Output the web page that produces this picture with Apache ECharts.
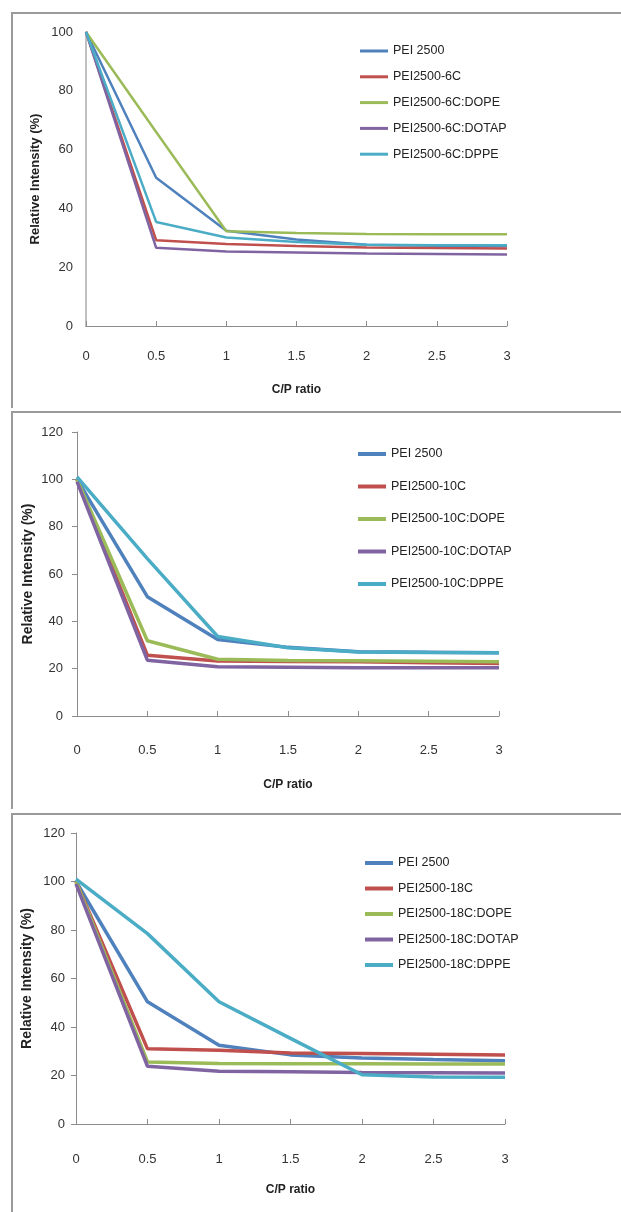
<!DOCTYPE html>
<html>
<head>
<meta charset="utf-8">
<script src="https://cdn.jsdelivr.net/npm/echarts@6/dist/echarts.min.js"></script>
<style>
  html, body { margin: 0; padding: 0; background: #fff; width: 621px; height: 1212px; overflow: hidden; }
  .frame { position: absolute; border-top: 2px solid #9a9a9a; border-left: 2px solid #9a9a9a; box-sizing: border-box; }
  .chart { position: absolute; left: 0; width: 621px; }
</style>
</head>
<body>
<div class="frame" style="left:11px; top:12px; width:620px; height:396px;"></div>
<div class="frame" style="left:11px; top:411px; width:620px; height:398px;"></div>
<div class="frame" style="left:11px; top:813px; width:620px; height:410px;"></div>
<div id="c1" class="chart" style="top:0px; height:405px;"></div>
<div id="c2" class="chart" style="top:405px; height:405px;"></div>
<div id="c3" class="chart" style="top:810px; height:402px;"></div>
<script>
// C/P ratio values (x axis)
var cpRatio = [0, 0.5, 1, 1.5, 2, 2.5, 3];
var colors = ['#4F81BD', '#C0504D', '#9BBB59', '#8064A2', '#4BACC6'];

// Panel 1: 6C
var names6C = ['PEI 2500', 'PEI2500-6C', 'PEI2500-6C:DOPE', 'PEI2500-6C:DOTAP', 'PEI2500-6C:DPPE'];
var pei2500_p1   = [100, 50.4, 32.4, 29.4, 27.6, 27.3, 27.1];
var c6           = [100, 29.2, 27.9, 27.2, 26.7, 26.5, 26.4];
var c6_dope      = [100, 66, 32.2, 31.6, 31.3, 31.2, 31.2];
var c6_dotap     = [100, 26.6, 25.3, 25.0, 24.7, 24.5, 24.3];
var c6_dppe      = [100, 35.4, 30.1, 28.6, 27.6, 27.5, 27.5];

// Panel 2: 10C
var names10C = ['PEI 2500', 'PEI2500-10C', 'PEI2500-10C:DOPE', 'PEI2500-10C:DOTAP', 'PEI2500-10C:DPPE'];
var pei2500_p2   = [100, 50.4, 32.3, 29.0, 27.1, 26.9, 26.7];
var c10          = [100, 25.7, 23.2, 23.0, 22.9, 22.5, 22.2];
var c10_dope     = [100, 31.8, 24.0, 23.5, 23.3, 23.1, 22.9];
var c10_dotap    = [99, 23.6, 20.8, 20.6, 20.4, 20.4, 20.4];
var c10_dppe     = [101, 66.5, 33.6, 28.8, 27.0, 26.8, 26.7];

// Panel 3: 18C
var names18C = ['PEI 2500', 'PEI2500-18C', 'PEI2500-18C:DOPE', 'PEI2500-18C:DOTAP', 'PEI2500-18C:DPPE'];
var pei2500_p3   = [100, 50.4, 32.5, 28.5, 27.2, 26.6, 26.1];
var c18          = [100, 31.0, 30.4, 29.3, 29.1, 28.8, 28.5];
var c18_dope     = [100, 25.6, 24.9, 24.8, 24.8, 24.7, 24.7];
var c18_dotap    = [99, 23.8, 21.8, 21.5, 21.2, 21.1, 21.0];
var c18_dppe     = [101, 78.5, 50.4, 35.3, 20.3, 19.4, 19.3];

var FONT = "'Liberation Sans Narrow', 'Liberation Sans', Arial, sans-serif";
var BOLD = "'Liberation Sans', Arial, sans-serif";

function pairs(vals) { return cpRatio.map(function (x, i) { return [x, vals[i]]; }); }

function build(cfg) {
  var series = cfg.values.map(function (v, i) {
    return {
      name: cfg.names[i], type: 'line', data: pairs(v),
      showSymbol: false, symbol: 'none', smooth: false,
      lineStyle: { width: cfg.lw, color: colors[i] },
      itemStyle: { color: colors[i] },
      z: 2 + i
    };
  });
  return {
    animation: false,
    color: colors,
    grid: cfg.grid,
    legend: {
      orient: 'vertical', left: cfg.legLeft, top: cfg.legTop, padding: 0,
      itemWidth: 28, itemHeight: cfg.iconH, itemGap: cfg.legGap,
      icon: 'rect',
      data: cfg.names,
      textStyle: { fontFamily: FONT, fontSize: 12.5, color: '#222', lineHeight: 16 }
    },
    xAxis: {
      type: 'value', min: 0, max: 3, interval: 0.5,
      name: 'C/P ratio', nameLocation: 'middle', nameGap: cfg.xNameGap,
      nameTextStyle: { fontFamily: BOLD, fontSize: 12, fontWeight: 'bold', color: '#222' },
      axisLine: { show: true, lineStyle: { color: '#8c8c8c', width: 1 } },
      axisTick: { show: true, inside: true, length: 5, lineStyle: { color: '#8c8c8c' } },
      axisLabel: { margin: cfg.xLabMargin, fontFamily: FONT, fontSize: 13, color: '#333' },
      splitLine: { show: false }
    },
    yAxis: {
      type: 'value', min: 0, max: cfg.ymax, interval: 20,
      name: 'Relative Intensity (%)', nameLocation: 'middle', nameGap: cfg.yNameGap, nameRotate: 90,
      nameMoveOverlap: false,
      nameTextStyle: { fontFamily: BOLD, fontSize: cfg.yNameSize, fontWeight: 'bold', color: '#222' },
      axisLine: { show: true, lineStyle: { color: cfg.yAxisColor, width: cfg.yAxisW } },
      axisTick: { show: cfg.yTicks, inside: false, length: 5, lineStyle: { color: '#8c8c8c' } },
      axisLabel: { margin: cfg.yLabMargin, fontFamily: FONT, fontSize: 13, color: '#333' },
      splitLine: { show: false }
    },
    series: series
  };
}

var cfgs = [
  { id: 'c1', names: names6C, values: [pei2500_p1, c6, c6_dope, c6_dotap, c6_dppe],
    grid: { left: 86, top: 32, width: 421, height: 294 }, ymax: 100, lw: 2.5, iconH: 3,
    legLeft: 360, legTop: 43, legGap: 9.8, xNameGap: 58, xLabMargin: 24, yNameGap: 44, yNameSize: 13,
    yLabMargin: 13, yAxisColor: '#c0c0c0', yAxisW: 2, yTicks: false },
  { id: 'c2', names: names10C, values: [pei2500_p2, c10, c10_dope, c10_dotap, c10_dppe],
    grid: { left: 77, top: 27, width: 422, height: 284 }, ymax: 120, lw: 3.5, iconH: 4,
    legLeft: 358, legTop: 41, legGap: 16.5, xNameGap: 63, xLabMargin: 28, yNameGap: 42, yNameSize: 14,
    yLabMargin: 14, yAxisColor: '#8c8c8c', yAxisW: 1, yTicks: true },
  { id: 'c3', names: names18C, values: [pei2500_p3, c18, c18_dope, c18_dotap, c18_dppe],
    grid: { left: 76, top: 23, width: 429, height: 291 }, ymax: 120, lw: 3.5, iconH: 4,
    legLeft: 365, legTop: 45, legGap: 9.5, xNameGap: 60, xLabMargin: 29, yNameGap: 42, yNameSize: 14,
    yLabMargin: 11, yAxisColor: '#8c8c8c', yAxisW: 1, yTicks: true }
];

cfgs.forEach(function (cfg) {
  var chart = echarts.init(document.getElementById(cfg.id), null, { renderer: 'canvas' });
  chart.setOption(build(cfg));
});
</script>
</body>
</html>
